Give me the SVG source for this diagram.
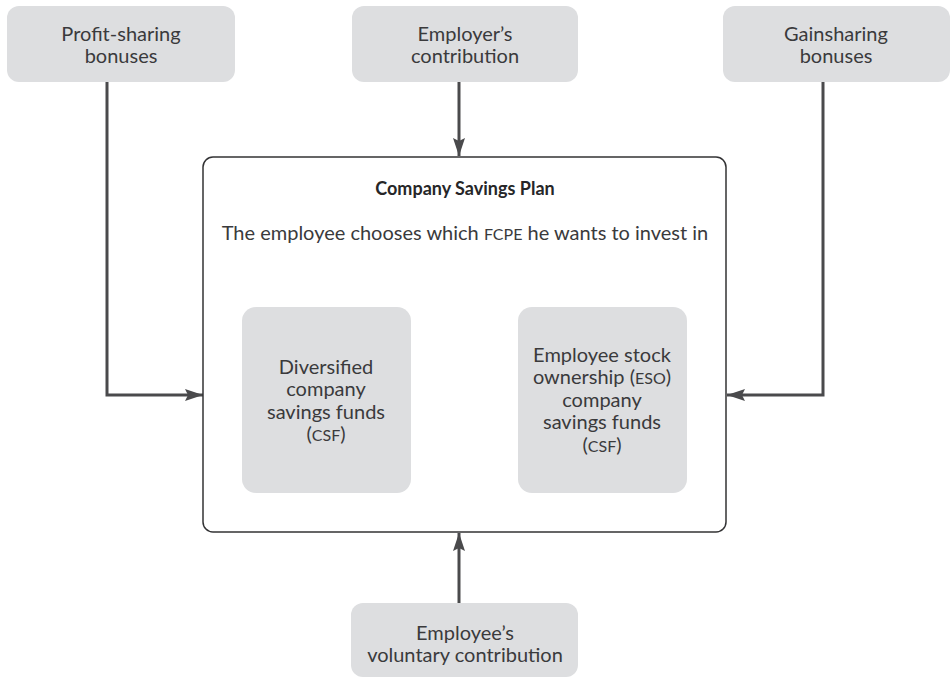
<svg xmlns="http://www.w3.org/2000/svg" width="951" height="679" viewBox="0 0 951 679">
<defs>
<marker id="ah" viewBox="0 0 18 12" refX="18" refY="6" markerWidth="18" markerHeight="12" markerUnits="userSpaceOnUse" orient="auto">
<path d="M0,0 L18,6 L0,12 L3,6 Z" fill="#4a4a4c"/>
</marker>
<style>
.src{fill:#dddee0}
.txt{font-family:Lato,"Open Sans","Liberation Sans",sans-serif;font-size:20px;fill:#3a3a3c;text-anchor:middle}
.sc{font-size:16px}
.ttl{font-family:Lato,"Open Sans","Liberation Sans",sans-serif;font-size:18px;font-weight:700;fill:#262628;text-anchor:middle}
.con{fill:none;stroke:#4a4a4c;stroke-width:3}
.main{fill:#ffffff;stroke:#333335;stroke-width:1.5}
</style>
</defs>
<rect width="951" height="679" fill="#ffffff"/>
<g id="connectors">
<path class="con" d="M107,82 V395 H203" marker-end="url(#ah)"/>
<path class="con" d="M459,82 V156" marker-end="url(#ah)"/>
<path class="con" d="M823,82 V395 H727" marker-end="url(#ah)"/>
<path class="con" d="M459,603 V533" marker-end="url(#ah)"/>
</g>
<g id="plan">
<rect class="main" x="203" y="157" width="523" height="375" rx="10"/>
<text class="ttl" x="465" y="195">Company Savings Plan</text>
<text class="txt" x="465" y="240">The employee chooses which <tspan class="sc">FCPE</tspan> he wants to invest in</text>
</g>
<g id="profit-sharing">
<rect class="src" x="7" y="6" width="228" height="76" rx="12"/>
<text class="txt" x="121" y="41">Profit-sharing</text>
<text class="txt" x="121" y="63">bonuses</text>
</g>
<g id="employer">
<rect class="src" x="352" y="6" width="226" height="76" rx="12"/>
<text class="txt" x="465" y="41">Employer’s</text>
<text class="txt" x="465" y="63">contribution</text>
</g>
<g id="gainsharing">
<rect class="src" x="723" y="6" width="227" height="76" rx="12"/>
<text class="txt" x="836" y="41">Gainsharing</text>
<text class="txt" x="836" y="63">bonuses</text>
</g>
<g id="diversified">
<rect class="src" x="242" y="307" width="169" height="186" rx="14"/>
<text class="txt" x="326" y="374">Diversified</text>
<text class="txt" x="326" y="396">company</text>
<text class="txt" x="326" y="419">savings funds</text>
<text class="txt" x="326" y="441">(<tspan class="sc">CSF</tspan>)</text>
</g>
<g id="eso">
<rect class="src" x="518" y="307" width="169" height="186" rx="14"/>
<text class="txt" x="602" y="362">Employee stock</text>
<text class="txt" x="602" y="384">ownership (<tspan class="sc">ESO</tspan>)</text>
<text class="txt" x="602" y="407">company</text>
<text class="txt" x="602" y="429">savings funds</text>
<text class="txt" x="602" y="452">(<tspan class="sc">CSF</tspan>)</text>
</g>
<g id="employee">
<rect class="src" x="351" y="603" width="227" height="74" rx="12"/>
<text class="txt" x="465" y="640">Employee’s</text>
<text class="txt" x="465" y="662">voluntary contribution</text>
</g>
</svg>
